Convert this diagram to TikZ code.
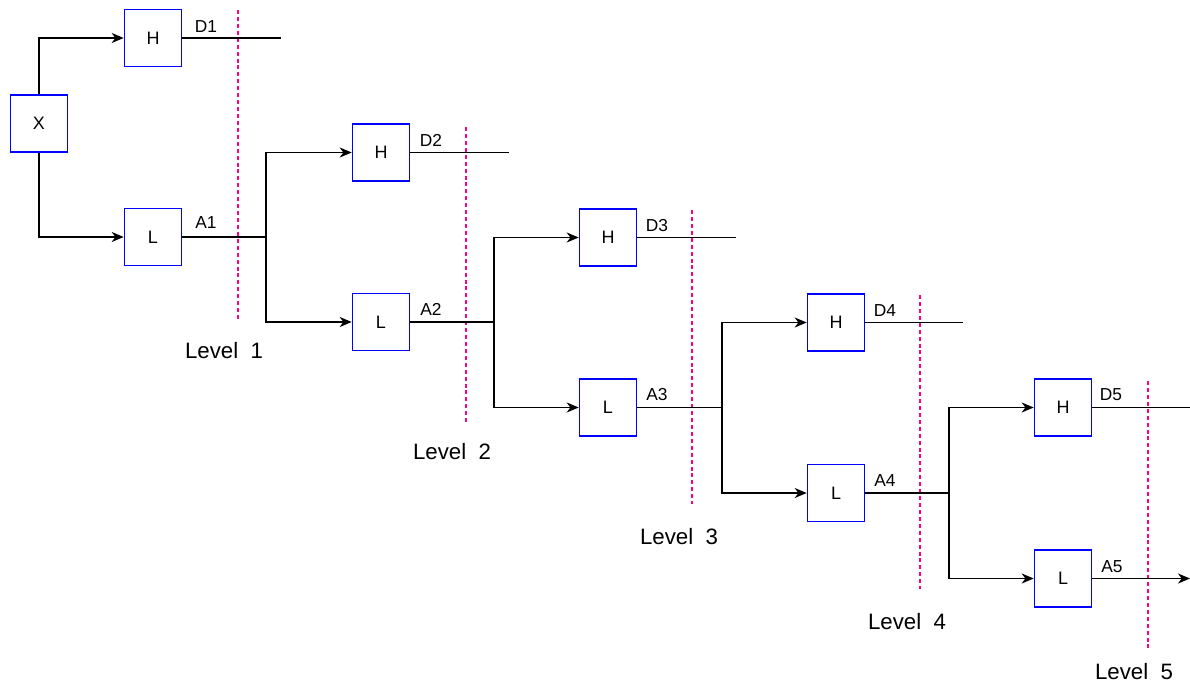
\documentclass[tikz,border=0pt]{standalone}
\usepackage{fontspec}
\setmainfont{Liberation Sans}
\usetikzlibrary{arrows.meta}
\definecolor{ink}{RGB}{0,0,0}
\definecolor{boxblue}{RGB}{0,0,255}
\definecolor{cutpink}{RGB}{255,0,128}
\tikzset{
  every picture/.style={color=ink, line width=1.2pt},
  blk/.style={draw=boxblue, line width=1.2pt, fill=white, minimum size=42.75pt, inner sep=0pt, font=\fontsize{13.5}{15}\selectfont},
  wire/.style={line width=1.2pt},
  flow/.style={wire, -{Stealth[length=9pt,width=7.5pt,inset=2.8pt]}},
  cut/.style={draw=cutpink, line width=1.1pt, dash pattern=on 3pt off 2.2pt},
  lbl/.style={font=\fontsize{13}{15}\selectfont, anchor=base, inner sep=0pt},
  lvl/.style={font=\fontsize{16.7}{20}\selectfont, anchor=base, inner sep=0pt},
}

\begin{document}
\begin{tikzpicture}[x=0.75pt, y=-0.75pt]
  % Five-level split: each L output branches into a new H/L pair,
  % the level cuts run down between the stages. Coordinates in pixels.
  \useasboundingbox (0,0) rectangle (1190,686);
  \draw[cut] (238,10)  -- (238,320);
  \draw[cut] (466,127) -- (466,422);
  \draw[cut] (692,210) -- (692,504);
  \draw[cut] (920,295) -- (920,589);
  \draw[cut] (1148,381) -- (1148,650);
  \node[blk] (x)  at (39,123.5)  {X};
  \node[blk] (h1) at (153,38)    {H};
  \node[blk] (l1) at (153,237)   {L};
  \node[blk] (h2) at (381,152.5) {H};
  \node[blk] (l2) at (381,322)   {L};
  \node[blk] (h3) at (608,237.5) {H};
  \node[blk] (l3) at (608,407.5) {L};
  \node[blk] (h4) at (836,322.5) {H};
  \node[blk] (l4) at (836,493)   {L};
  \node[blk] (h5) at (1063,407.5) {H};
  \node[blk] (l5) at (1063,578.5) {L};
  \coordinate (j1) at (266,237);
  \coordinate (j2) at (494,322);
  \coordinate (j3) at (722,407.5);
  \coordinate (j4) at (949,493);
  \coordinate (d1end) at (281,38);
  \coordinate (d2end) at (509,152.5);
  \coordinate (d3end) at (736,237.5);
  \coordinate (d4end) at (963,322.5);
  \coordinate (d5end) at (1190,407.5);
  \coordinate (a5end) at (1190,578.5);
  \draw[flow] (x.north) |- (h1.west);
  \draw[flow] (x.south) |- (l1.west);
  \draw[wire] (h1.east) -- (d1end); \draw[wire] (l1.east) -- (j1);
  \draw[flow] (j1) |- (h2.west); \draw[flow] (j1) |- (l2.west);
  \draw[wire] (h2.east) -- (d2end); \draw[wire] (l2.east) -- (j2);
  \draw[flow] (j2) |- (h3.west); \draw[flow] (j2) |- (l3.west);
  \draw[wire] (h3.east) -- (d3end); \draw[wire] (l3.east) -- (j3);
  \draw[flow] (j3) |- (h4.west); \draw[flow] (j3) |- (l4.west);
  \draw[wire] (h4.east) -- (d4end); \draw[wire] (l4.east) -- (j4);
  \draw[flow] (j4) |- (h5.west); \draw[flow] (j4) |- (l5.west);
  \draw[wire] (h5.east) -- (d5end); \draw[flow] (l5.east) -- (a5end);
  \node[lbl] (d1) at (206,32)  {D1};
  \node[lbl] (a1) at (206,228) {A1};
  \node[lbl] (d2) at (431,146) {D2};
  \node[lbl] (a2) at (431,315) {A2};
  \node[lbl] (d3) at (657,231) {D3};
  \node[lbl] (a3) at (657,400) {A3};
  \node[lbl] (d4) at (885,316) {D4};
  \node[lbl] (a4) at (885,486) {A4};
  \node[lbl] (d5) at (1111,400) {D5};
  \node[lbl] (a5) at (1112,572) {A5};
  \node[lvl] (lev1) at (224,358)  {Level~~1};
  \node[lvl] (lev2) at (452,459)  {Level~~2};
  \node[lvl] (lev3) at (679,544)  {Level~~3};
  \node[lvl] (lev4) at (907,629)  {Level~~4};
  \node[lvl] (lev5) at (1134,679) {Level~~5};
\end{tikzpicture}
\end{document}
